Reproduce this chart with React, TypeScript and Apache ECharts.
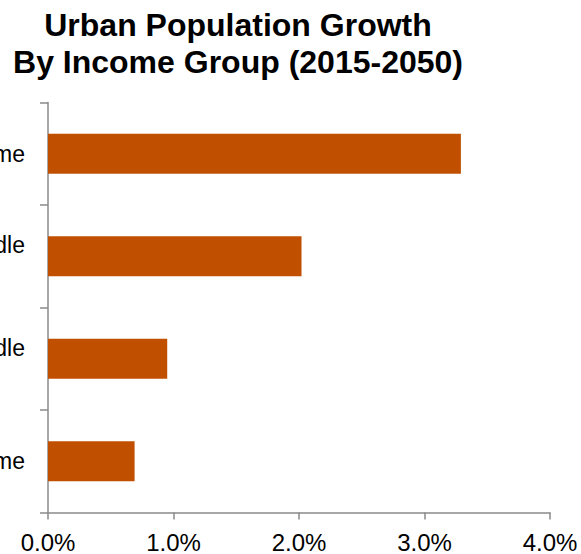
import React, { useEffect, useRef } from "react";
import * as echarts from "echarts";

const categories = ["High Income", "Upper Middle", "Lower Middle", "Low Income"];
const growthValues = [0.69, 0.95, 2.02, 3.29];
const titleLines = ["Urban Population Growth", "By Income Group (2015-2050)"];

const FONT = "'Liberation Sans', Arial, Helvetica, sans-serif";

export default function App() {
  const ref = useRef<HTMLDivElement>(null);
  useEffect(() => {
    if (!ref.current) return;
    const chart = echarts.init(ref.current, undefined, { renderer: "svg" });
    chart.setOption({
      animation: false,
      backgroundColor: "#ffffff",
      graphic: [
        {
          type: "text",
          x: 238,
          y: 6,
          style: {
            text: titleLines.join("\n"),
            fontFamily: FONT,
            fontWeight: "bold",
            fontSize: 32,
            lineHeight: 37,
            fill: "#000000",
            textAlign: "center",
            textVerticalAlign: "top",
          },
        },
      ],
      grid: {
        left: 48,
        right: 31,
        top: 102.5,
        bottom: 41.5,
        containLabel: false,
        outerBoundsMode: "none",
      },
      xAxis: {
        type: "value",
        min: 0,
        max: 4,
        interval: 1,
        splitLine: { show: false },
        axisLine: { show: true, lineStyle: { color: "#8a8a8a", width: 1.5 } },
        axisTick: { show: true, length: 7, lineStyle: { color: "#8a8a8a", width: 1.5 } },
        axisLabel: {
          margin: 18,
          fontSize: 24,
          fontFamily: FONT,
          color: "#000000",
          hideOverlap: false,
          formatter: (v: number) => v.toFixed(1) + "%",
        },
      },
      yAxis: {
        type: "category",
        data: categories,
        axisLine: { show: true, lineStyle: { color: "#8a8a8a", width: 1.5 } },
        axisTick: { show: true, length: 8, lineStyle: { color: "#8a8a8a", width: 1.5 } },
        axisLabel: {
          margin: 23,
          fontSize: 23,
          fontFamily: FONT,
          color: "#000000",
          formatter: (v: string) => (v.includes("Middle") ? `{up|${v}}` : v),
          rich: {
            up: {
              fontSize: 23,
              fontFamily: FONT,
              color: "#000000",
              padding: [0, 0, 22, 0],
            },
          },
        },
      },
      series: [
        {
          type: "bar",
          data: growthValues,
          barWidth: 40,
          itemStyle: { color: "#C04F00" },
        },
      ],
    });
    return () => chart.dispose();
  }, []);
  return (
    <div
      ref={ref}
      style={{ position: "absolute", left: 0, top: 0, width: 581, height: 554 }}
    />
  );
}
